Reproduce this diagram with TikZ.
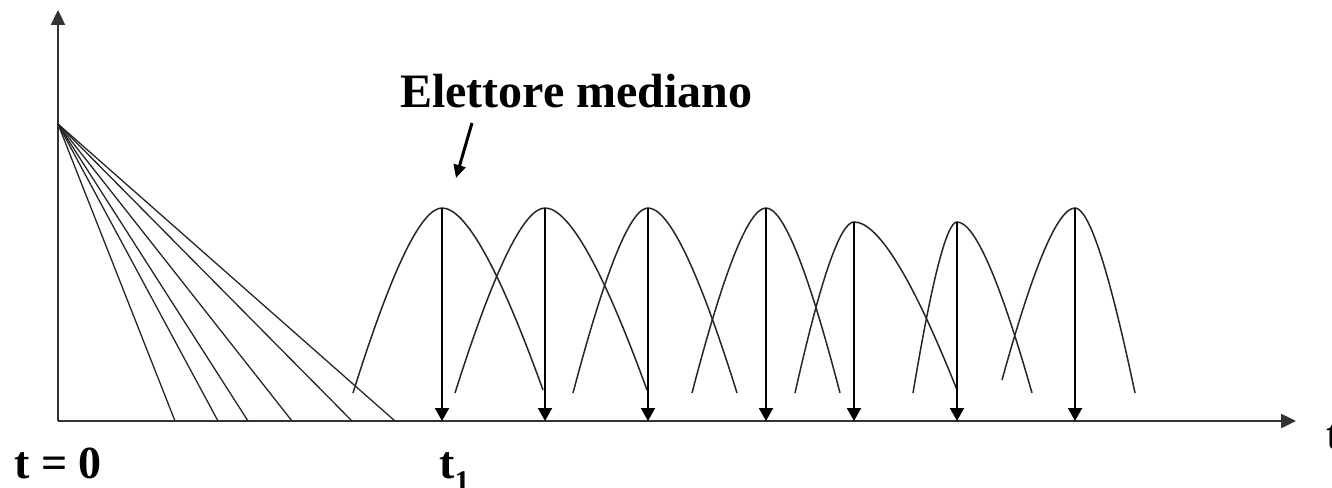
\documentclass[tikz,border=0pt]{standalone}
\usepackage{fontspec}
\setmainfont{Liberation Serif}
\usetikzlibrary{arrows.meta,calc}
\tikzset{
  axisline/.style={line width=2.4pt,draw=black!80,-{Triangle[length=15pt,width=14pt]}},
  fanline/.style={line width=1.3pt,draw=black!85},
  bell/.style={line width=1.5pt,draw=black!85},
  droparrow/.style={line width=2pt,-{Triangle[length=13pt,width=14pt]}},
  pointer/.style={line width=3pt,-{Triangle[length=13pt,width=12pt]}},
  lbl/.style={inner sep=0pt,font=\fontsize{46}{52}\selectfont\bfseries},
  title/.style={inner sep=0pt,font=\fontsize{48}{56}\selectfont\bfseries}
}
\begin{document}
\begin{tikzpicture}[x=1pt,y=-1pt]
\useasboundingbox (0,0) rectangle (1332,487);
% axes
\coordinate (O) at (58,421);
\coordinate (Ytop) at (58,10);
\coordinate (Xend) at (1296,421);
\draw[axisline] (O) -- (Ytop);
\draw[axisline] (O) -- (Xend);
% fan of lines
\coordinate (F) at (58,124);
\foreach \x [count=\i] in {175,218,248,292,352,395} {
  \coordinate (f\i) at (\x,421);
  \draw[fanline] (F) -- (f\i);
}
% bells with median arrows
\foreach \xl/\yl/\xp/\yp/\xr/\yr [count=\i] in {
  353/393/442/208/543/390,
  455/393/545/208/647/390,
  573/393/648/208/737/393,
  692/393/766/208/840/393,
  795/393/854/222/957/390,
  913/393/957/222/1032/393,
  1002/380/1075/208/1135/393} {
  \coordinate (L\i) at (\xl,\yl);
  \coordinate (P\i) at (\xp,\yp);
  \coordinate (R\i) at (\xr,\yr);
  \coordinate (B\i) at (\xp,421);
  \coordinate (QL\i) at ($(P\i)!0.35!(L\i|-P\i)$);
  \coordinate (QR\i) at ($(P\i)!0.35!(R\i|-P\i)$);
  \draw[bell] (L\i) .. controls ($(L\i)!2/3!(QL\i)$) and ($(P\i)!2/3!(QL\i)$) .. (P\i)
                   .. controls ($(P\i)!2/3!(QR\i)$) and ($(R\i)!2/3!(QR\i)$) .. (R\i);
  \draw[droparrow] (P\i) -- (B\i);
}
% labels
\node[title,anchor=base west] (em) at (400,107) {Elettore mediano};
\coordinate (ptail) at (472,123);
\coordinate (phead) at (456,178);
\draw[pointer] (ptail) -- (phead);
\node[lbl,anchor=base west] (t0) at (14,478) {t = 0};
\node[lbl,anchor=base west] (t1) at (439,478) {t\raisebox{-13pt}{\fontsize{30}{30}\selectfont\bfseries 1}};
\node[lbl,anchor=base west] (tx) at (1326,449) {t};
\end{tikzpicture}
\end{document}
